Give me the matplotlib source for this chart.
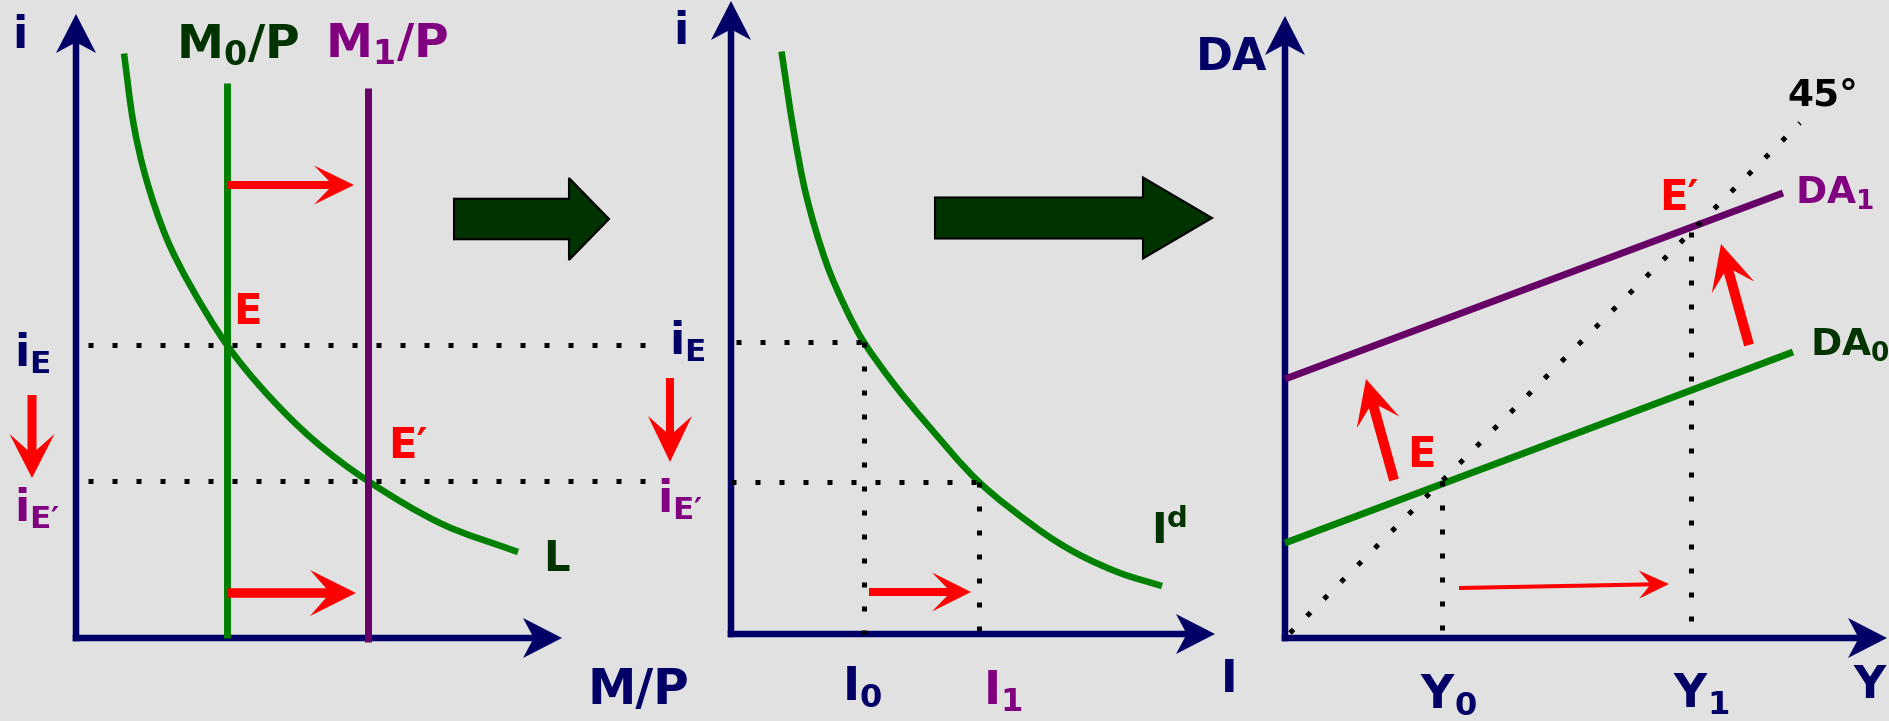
import numpy as np
import matplotlib.pyplot as plt
from matplotlib.patches import Polygon, PathPatch
from matplotlib.path import Path

plt.rcParams['font.family'] = ['DejaVu Sans']
plt.rcParams['mathtext.fontset'] = 'dejavusans'
plt.rcParams['mathtext.default'] = 'bf'

W, H = 1889, 721
UNIT = 50  # pixels per data unit, same in x and y for every panel

NAVY = '#000066'
GREEN = '#008000'
DKGREEN = '#003300'
PURPLE_LINE = '#660066'
PURPLE = '#800080'
RED = '#ff0000'

# --- money market: liquidity preference L and money supply M/P
money_supply = [3.02, 5.84]          # M0/P, M1/P
rate_levels = [5.86, 3.14]           # iE, iE'
l_x = [0.96, 1.15, 1.41, 1.81, 2.28, 3.02, 3.81, 4.75, 5.84, 7.32, 8.84]
l_y = [11.69, 10.29, 9.16, 8.00, 7.06, 5.86, 4.89, 3.96, 3.14, 2.28, 1.72]

# --- investment demand I^d
invest_levels = [2.65, 4.95]         # I0, I1
rate_levels_2 = [5.85, 3.05]
id_x = [1.01, 1.25, 1.51, 1.91, 2.31, 2.65, 3.25, 3.91, 4.95, 6.11,
        6.90, 7.78, 8.62]
id_y = [11.65, 10.08, 8.75, 7.41, 6.48, 5.85, 5.01, 4.21, 3.05, 2.12,
        1.62, 1.22, 0.96]

# --- 45 degree diagram: aggregate demand DA0, DA1
output_levels = [3.14, 8.12]         # Y0, Y1
da0_y = [0.0, 10.16]
da0 = [1.90, 5.72]
da1_y = [0.0, 9.96]
da1 = [5.18, 8.90]
diag = [0.1, 10.3]


def arrow(ax, x0, y0, x1, y1, shaft, head_len, head_w, notch,
          color=RED, edge=None, z=5):
    p0 = np.array([x0, y0], float)
    tip = np.array([x1, y1], float)
    u = (tip - p0) / np.hypot(*(tip - p0))
    n = np.array([-u[1], u[0]])
    back = tip - u * head_len
    joint = back + u * notch
    pts = [p0 + n * shaft / 2, joint + n * shaft / 2, back + n * head_w, tip,
           back - n * head_w, joint - n * shaft / 2, p0 - n * shaft / 2]
    ax.add_patch(Polygon(pts, closed=True, facecolor=color,
                         edgecolor=edge if edge else 'none',
                         lw=1.5 if edge else 0, zorder=z, clip_on=False))


def smooth_curve(ax, xs, ys, color, lw):
    # cubic bezier through the points, tangents from chord-length differences
    p = np.column_stack([xs, ys]).astype(float)
    t = np.concatenate([[0], np.cumsum(np.hypot(*np.diff(p, axis=0).T))])
    m = np.empty_like(p)
    m[0] = (p[1] - p[0]) / (t[1] - t[0])
    m[-1] = (p[-1] - p[-2]) / (t[-1] - t[-2])
    m[1:-1] = (p[2:] - p[:-2]) / (t[2:] - t[:-2])[:, None]
    verts, codes = [p[0]], [Path.MOVETO]
    for i in range(len(p) - 1):
        dt = t[i + 1] - t[i]
        verts += [p[i] + m[i] * dt / 3, p[i + 1] - m[i + 1] * dt / 3, p[i + 1]]
        codes += [Path.CURVE4] * 3
    ax.add_patch(PathPatch(Path(verts, codes), fill=False, edgecolor=color,
                           lw=lw, capstyle='butt', joinstyle='round',
                           zorder=3, clip_on=False))


def panel(ox, oy, xmax, ymax):
    ax = fig.add_axes([0, 0, 1, 1])
    ax.set_xlim(-ox / UNIT, (W - ox) / UNIT)
    ax.set_ylim((oy - H) / UNIT, oy / UNIT)
    ax.axis('off')
    ax.patch.set_alpha(0)
    arrow(ax, -0.065, 0, xmax, 0, 0.13, 0.78, 0.4, 0.18, color=NAVY, z=2)
    arrow(ax, 0, -0.065, 0, ymax, 0.13, 0.78, 0.4, 0.18, color=NAVY, z=2)
    return ax


def label(ax, x, y, s, color=NAVY, size=32, ha='center'):
    ax.text(x, y, s, color=color, fontsize=size, fontweight='bold',
            ha=ha, va='center', zorder=6, clip_on=False)


dots = dict(color='black', lw=3.6, linestyle=(0, (1, 3.8)),
            dash_capstyle='butt', zorder=4, clip_on=False)

fig = plt.figure(figsize=(W / 100, H / 100), dpi=100, facecolor='#e1e1e1')

# ---------------- panel 1: money market
ax1 = panel(76, 638, 9.72, 12.48)
smooth_curve(ax1, l_x, l_y, GREEN, 4.7)
ax1.plot([money_supply[0]] * 2, [0, 11.1], color=GREEN, lw=5, zorder=3,
         solid_capstyle='butt')
ax1.plot([money_supply[1]] * 2, [-0.08, 11.0], color=PURPLE_LINE, lw=5,
         zorder=3, solid_capstyle='butt')
for r in rate_levels:
    ax1.plot([0.24, 11.38], [r, r], **dots)

arrow(ax1, money_supply[0], 9.06, money_supply[1] - 0.28, 9.06,
      0.16, 0.8, 0.39, 0.3)
arrow(ax1, money_supply[0], 0.9, money_supply[1] - 0.24, 0.9,
      0.19, 0.92, 0.46, 0.32)
arrow(ax1, -0.88, 4.86, -0.88, 3.2, 0.18, 0.88, 0.45, 0.32)

label(ax1, -1.12, 12.04, 'i')
label(ax1, 2.0, 11.86, r'$M_0/P$', DKGREEN, 34, ha='left')
label(ax1, 4.98, 11.86, r'$M_1/P$', PURPLE, 34, ha='left')
label(ax1, -0.88, 5.7, r'$i_E$')
label(ax1, -0.78, 2.6, r'$i_{E′}$', PURPLE)
label(ax1, 3.43, 6.51, 'E', RED, 30)
label(ax1, 6.64, 3.84, 'E′', RED, 30)
label(ax1, 9.6, 1.58, 'L', DKGREEN, 30)
label(ax1, 11.24, -1.04, 'M/P', size=35)

# connector arrow to the investment panel
arrow(ax1, 7.56, 8.38, 10.66, 8.38, 0.81, 0.8, 0.82, 0.0,
      color=DKGREEN, edge='black', z=3)

# ---------------- panel 2: investment demand
ax2 = panel(731, 634, 9.68, 12.66)
smooth_curve(ax2, id_x, id_y, GREEN, 4.7)
ax2.plot([0.1, invest_levels[0]], [rate_levels_2[0]] * 2, **dots)
ax2.plot([0.0, invest_levels[1]], [rate_levels_2[1]] * 2, **dots)
for inv, r in zip(invest_levels, rate_levels_2):
    ax2.plot([inv, inv], [r, 0], **dots)

arrow(ax2, invest_levels[0] + 0.11, 0.84, invest_levels[1] - 0.15, 0.84,
      0.16, 0.78, 0.39, 0.3)
arrow(ax2, -1.22, 5.12, -1.22, 3.44, 0.16, 0.92, 0.44, 0.32)

label(ax2, -1.0, 12.04, 'i')
label(ax2, -0.88, 5.86, r'$i_E$')
label(ax2, -1.02, 2.7, r'$i_{E′}$', PURPLE)
label(ax2, 2.62, -1.06, r'$I_0$', size=33)
label(ax2, 5.44, -1.16, r'$I_1$', PURPLE, 33)
label(ax2, 9.96, -0.9, 'I')
label(ax2, 8.76, 2.06, r'$I^d$', DKGREEN, 30)

# connector arrow to the income panel
arrow(ax2, 4.08, 8.32, 9.62, 8.32, 0.82, 1.38, 0.81, 0.0,
      color=DKGREEN, edge='black', z=3)

# ---------------- panel 3: 45 degree diagram
ax3 = panel(1285, 638, 12.04, 12.44)
ax3.plot(diag, diag, **dots)
ax3.plot(da0_y, da0, color=GREEN, lw=5, zorder=3, solid_capstyle='butt')
ax3.plot(da1_y, da1, color=PURPLE_LINE, lw=5, zorder=3,
         solid_capstyle='butt')
for y in output_levels:
    ax3.plot([y, y], [y, 0], **dots)

arrow(ax3, 2.18, 3.16, 1.62, 5.18, 0.2, 0.9, 0.44, 0.32)
arrow(ax3, 9.28, 5.86, 8.72, 7.88, 0.2, 0.9, 0.44, 0.32)
arrow(ax3, output_levels[0] + 0.34, 1.0, output_levels[1] - 0.44, 1.08,
      0.08, 0.6, 0.28, 0.2)

label(ax3, -1.06, 11.62, 'DA')
label(ax3, 2.72, 3.66, 'E', RED, 30)
label(ax3, 7.88, 8.8, 'E′', RED, 30)
label(ax3, 10.76, 10.86, '45°', 'black', 27)
label(ax3, 11.0, 8.9, r'$DA_1$', PURPLE, 27)
label(ax3, 11.3, 5.86, r'$DA_0$', DKGREEN, 27)
label(ax3, 3.26, -1.14, r'$Y_0$', size=33)
label(ax3, 8.32, -1.14, r'$Y_1$', size=33)
label(ax3, 11.7, -0.94, 'Y')

fig.savefig('out.png', dpi=100, facecolor=fig.get_facecolor())
